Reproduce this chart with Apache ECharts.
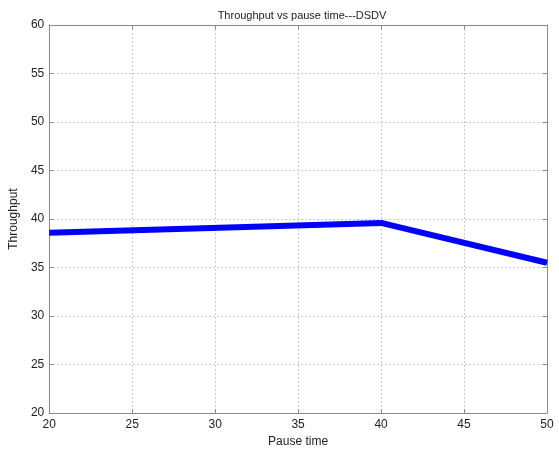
<!DOCTYPE html>
<html>
<head>
<meta charset="utf-8">
<script src="https://cdn.jsdelivr.net/npm/echarts@6/dist/echarts.min.js"></script>
<style>html,body{margin:0;padding:0;background:#fff;}#c{width:559px;height:453px;}</style>
</head>
<body>
<div id="c"></div>
<script>
var pauseTime = [20, 40, 50];
var throughput = [38.6, 39.6, 35.5];
var titleText = 'Throughput vs pause time---DSDV';
var xName = 'Pause time';
var yName = 'Throughput';

var chart = echarts.init(document.getElementById('c'), null, {renderer: 'canvas'});
var font = 'Liberation Sans, Arial, sans-serif';
var axisLineStyle = {color: '#8a8a8a', width: 1};
var gridLine = {show: true, lineStyle: {color: '#c8c8c8', type: [2, 2], width: 1}};
var data = pauseTime.map(function (x, i) { return [x, throughput[i]]; });
chart.setOption({
  backgroundColor: '#ffffff',
  animation: false,
  title: {
    text: titleText, left: 297, top: 5, textAlign: 'center',
    textStyle: {fontFamily: font, fontSize: 11, fontWeight: 'normal', color: '#222'}
  },
  grid: {left: 47, right: 12, top: 25, bottom: 32, containLabel: false},
  xAxis: [{
    type: 'value', min: 20, max: 50, interval: 5, position: 'bottom',
    name: xName, nameLocation: 'middle', nameGap: 20,
    nameTextStyle: {fontFamily: font, fontSize: 12, color: '#222'},
    axisLine: {show: true, onZero: false, lineStyle: axisLineStyle},
    axisTick: {show: true, inside: true, length: 4, lineStyle: axisLineStyle},
    axisLabel: {fontFamily: font, fontSize: 12, color: '#222', margin: 6},
    splitLine: gridLine
  }, {
    type: 'value', min: 20, max: 50, interval: 5, position: 'top',
    axisLine: {show: true, onZero: false, lineStyle: axisLineStyle},
    axisTick: {show: true, inside: true, length: 4, lineStyle: axisLineStyle},
    axisLabel: {show: false}, splitLine: {show: false}
  }],
  yAxis: [{
    type: 'value', min: 20, max: 60, interval: 5, position: 'left',
    name: yName, nameLocation: 'middle', nameGap: 23, nameRotate: 90,
    nameTextStyle: {fontFamily: font, fontSize: 12, color: '#222'},
    axisLine: {show: true, onZero: false, lineStyle: axisLineStyle},
    axisTick: {show: true, inside: true, length: 4, lineStyle: axisLineStyle},
    axisLabel: {fontFamily: font, fontSize: 12, color: '#222', margin: 5},
    splitLine: gridLine
  }, {
    type: 'value', min: 20, max: 60, interval: 5, position: 'right',
    axisLine: {show: true, onZero: false, lineStyle: axisLineStyle},
    axisTick: {show: true, inside: true, length: 4, lineStyle: axisLineStyle},
    axisLabel: {show: false}, splitLine: {show: false}
  }],
  series: [{
    type: 'line', data: data, xAxisIndex: 0, yAxisIndex: 0,
    showSymbol: false, symbol: 'none',
    lineStyle: {color: '#0000ff', width: 6},
    itemStyle: {color: '#0000ff'}
  }]
});
</script>
</body>
</html>
